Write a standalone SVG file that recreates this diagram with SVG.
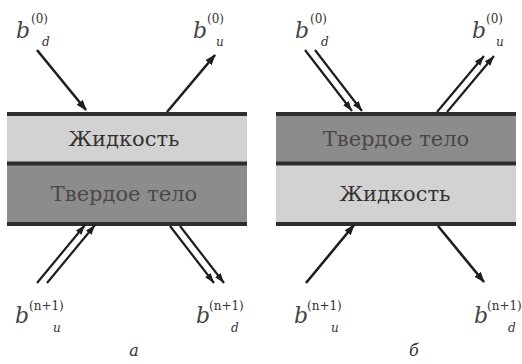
<svg xmlns="http://www.w3.org/2000/svg" width="522" height="364" viewBox="0 0 522 364">
<style>
.light{fill:#d2d2d2}
.dark{fill:#8c8c8c}
.bd{stroke:#2e2e2e;stroke-width:4}
.lbl{font-family:"DejaVu Serif","Liberation Serif",serif;font-size:21px;fill:#333;text-anchor:middle}
.lblD{fill:#484848}
.ar{stroke:#1e1e1e;stroke-width:2.6;fill:none;marker-end:url(#ah)}
.ar2{stroke:#1e1e1e;stroke-width:2.2;fill:none;marker-end:url(#ah2)}
.b{font-family:"DejaVu Serif","Liberation Serif",serif;font-style:italic;font-size:22px;fill:#444}
.sup{font-family:"DejaVu Serif","Liberation Serif",serif;font-size:12px;fill:#333}
.sub{font-family:"DejaVu Serif","Liberation Serif",serif;font-style:italic;font-size:12px;fill:#333}
.cap{font-family:"DejaVu Serif","Liberation Serif",serif;font-style:italic;font-size:16px;fill:#333;text-anchor:middle}
</style>
<defs>
<marker id="ah" markerWidth="12" markerHeight="10" refX="10" refY="4" orient="auto" markerUnits="userSpaceOnUse"><path d="M0,0 L11,4 L0,8 Z" fill="#1e1e1e"/></marker>
<marker id="ah2" markerWidth="12" markerHeight="10" refX="10" refY="4" orient="auto" markerUnits="userSpaceOnUse"><path d="M0,0.5 L10,4 L0,7.5 Z" fill="#1e1e1e"/></marker>
</defs>

<g id="panel-a">
<g id="a-liquid"><rect class="light" x="7" y="114" width="240" height="50"/><text class="lbl" x="124" y="146">Жидкость</text></g>
<g id="a-solid"><rect class="dark" x="7" y="163" width="240" height="61"/><text class="lbl lblD" x="124" y="201">Твердое тело</text></g>
<line class="bd" x1="7" y1="114" x2="247" y2="114"/>
<line class="bd" x1="7" y1="163.5" x2="247" y2="163.5"/>
<line class="bd" x1="7" y1="224" x2="247" y2="224"/>
</g>

<g id="panel-b">
<g id="b-solid"><rect class="dark" x="276" y="114" width="240" height="50"/><text class="lbl lblD" x="396" y="146">Твердое тело</text></g>
<g id="b-liquid"><rect class="light" x="276" y="163" width="240" height="61"/><text class="lbl" x="395" y="201">Жидкость</text></g>
<line class="bd" x1="276" y1="114" x2="516" y2="114"/>
<line class="bd" x1="276" y1="163.5" x2="516" y2="163.5"/>
<line class="bd" x1="276" y1="224" x2="516" y2="224"/>
</g>

<g id="connectors">
<line class="ar" x1="37" y1="50" x2="86" y2="110"/>
<line class="ar" x1="167" y1="112" x2="215" y2="55"/>
<line class="ar2" x1="37" y1="283" x2="85" y2="225"/>
<line class="ar2" x1="47" y1="283" x2="95" y2="225"/>
<line class="ar2" x1="170" y1="226" x2="214" y2="283"/>
<line class="ar2" x1="180" y1="226" x2="224" y2="283"/>
<line class="ar2" x1="305" y1="50" x2="352" y2="111"/>
<line class="ar2" x1="315" y1="50" x2="362" y2="111"/>
<line class="ar2" x1="437" y1="112" x2="484" y2="56"/>
<line class="ar2" x1="447" y1="112" x2="494" y2="56"/>
<line class="ar" x1="306" y1="283" x2="354" y2="225"/>
<line class="ar" x1="438" y1="226" x2="484" y2="282"/>
</g>

<g id="labels">
<text class="b" x="16" y="38">b</text><text class="sup" x="31" y="23">(0)</text><text class="sub" x="42" y="46">d</text>
<text class="b" x="193" y="38">b</text><text class="sup" x="207" y="23">(0)</text><text class="sub" x="216" y="46">u</text>
<text class="b" x="295" y="38">b</text><text class="sup" x="310" y="23">(0)</text><text class="sub" x="321" y="46">d</text>
<text class="b" x="472" y="38">b</text><text class="sup" x="486" y="23">(0)</text><text class="sub" x="496" y="46">u</text>
<text class="b" x="15" y="323">b</text><text class="sup" x="29" y="310">(n+1)</text><text class="sub" x="53" y="332">u</text>
<text class="b" x="196" y="323">b</text><text class="sup" x="209" y="310">(n+1)</text><text class="sub" x="231" y="332">d</text>
<text class="b" x="294" y="323">b</text><text class="sup" x="307" y="310">(n+1)</text><text class="sub" x="331" y="332">u</text>
<text class="b" x="474" y="323">b</text><text class="sup" x="487" y="310">(n+1)</text><text class="sub" x="508" y="332">d</text>
<text class="cap" x="134" y="356">а</text>
<text class="cap" x="414" y="356">б</text>
</g>
</svg>
